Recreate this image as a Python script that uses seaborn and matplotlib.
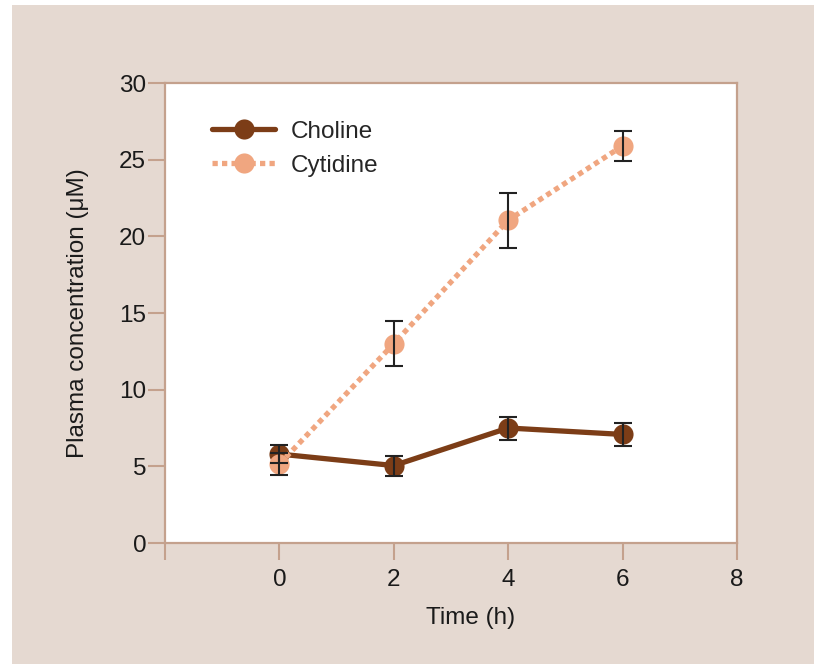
import matplotlib
matplotlib.use("Agg")
import matplotlib.pyplot as plt
import matplotlib.patches as mpatches
from matplotlib.lines import Line2D
import seaborn as sns
import pandas as pd

# ---- data ----
time_h = [0, 2, 4, 6]
choline = [5.8, 5.05, 7.5, 7.08]
choline_err = [0.6, 0.65, 0.75, 0.75]
cytidine = [5.15, 13.0, 21.05, 25.9]
cytidine_err = [0.7, 1.45, 1.8, 0.97]
series_names = ["Choline", "Cytidine"]
x_ticks = [-2, 0, 2, 4, 6, 8]
x_tick_labels = ["", "0", "2", "4", "6", "8"]
y_ticks = [0, 5, 10, 15, 20, 25, 30]

BG = "#e5d9d1"
SPINE = "#c4a18d"
C_CHOL = "#7c3d17"
C_CYT = "#f0a680"
ERR = "#222222"
TXT = "#1a1a1a"
FS = 17.5

sns.set_style("white")
plt.rcParams["font.family"] = ["Liberation Sans", "DejaVu Sans"]

W, H = 814, 664
fig = plt.figure(figsize=(W / 100, H / 100), dpi=100, facecolor="white")
fig.patches.append(mpatches.Rectangle((12 / W, 0 / H), (W - 12) / W, (H - 5) / H,
                                      transform=fig.transFigure, facecolor=BG,
                                      edgecolor="none", zorder=-10))

left, right, top, bottom = 165, 737, 83, 543
ax = fig.add_axes([left / W, (H - bottom) / H, (right - left) / W, (bottom - top) / H])
ax.set_facecolor("white")

df = pd.DataFrame({
    "time": time_h * 2,
    "value": choline + cytidine,
    "series": [series_names[0]] * 4 + [series_names[1]] * 4,
})

DOT = (0, (1.0, 0.8))
sns.lineplot(data=df[df.series == "Choline"], x="time", y="value", ax=ax,
             color=C_CHOL, lw=3.8, marker="o", markersize=14.5,
             markeredgewidth=0, legend=False, zorder=3)
sns.lineplot(data=df[df.series == "Cytidine"], x="time", y="value", ax=ax,
             color=C_CYT, lw=3.8, marker="o", markersize=14.5,
             markeredgewidth=0, legend=False, zorder=4)
ax.lines[1].set_linestyle(DOT)
ax.lines[1].set_dash_capstyle("butt")

ax.errorbar(time_h, choline, yerr=choline_err, fmt="none", ecolor=ERR,
            elinewidth=1.5, capsize=6.5, capthick=1.5, zorder=6)
ax.errorbar(time_h, cytidine, yerr=cytidine_err, fmt="none", ecolor=ERR,
            elinewidth=1.5, capsize=6.5, capthick=1.5, zorder=6)

ax.set_xlim(-2, 8)
ax.set_ylim(0, 30)
ax.set_xticks(x_ticks)
ax.set_xticklabels(x_tick_labels)
ax.set_yticks(y_ticks)
ax.tick_params(axis="both", which="major", direction="out", length=12,
               width=1.5, color=SPINE, labelsize=FS, labelcolor=TXT,
               bottom=True, left=True)
ax.tick_params(axis="y", pad=1.5)
ax.tick_params(axis="x", pad=6.5)
for s in ax.spines.values():
    s.set_visible(True)
    s.set_color(SPINE)
    s.set_linewidth(1.6)

ax.set_xlabel("Time (h)", fontsize=FS, color=TXT)
ax.set_ylabel("Plasma concentration (μM)", fontsize=FS, color=TXT)
ax.xaxis.set_label_coords(0.535, -0.14)
ax.yaxis.set_label_coords(-0.132, 0.5)

handles = [
    Line2D([0], [0], color=C_CHOL, lw=3.8, marker="o", markersize=14.5, markeredgewidth=0),
    Line2D([0], [0], color=C_CYT, lw=3.8, ls=DOT, marker="o",
           markersize=14.5, markeredgewidth=0, dash_capstyle="butt"),
]
ax.legend(handles, series_names, loc="upper left", bbox_to_anchor=(0.082, 0.918),
          frameon=False, fontsize=FS, handlelength=2.6, handletextpad=0.65,
          borderpad=0, borderaxespad=0, labelspacing=0.5)

fig.savefig("out.png", dpi=100, facecolor="white")
